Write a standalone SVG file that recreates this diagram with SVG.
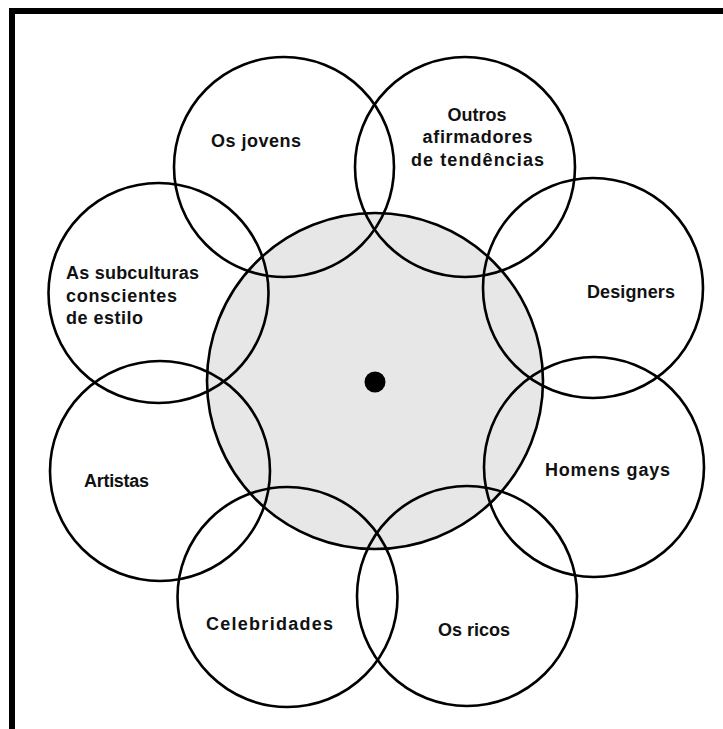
<svg xmlns="http://www.w3.org/2000/svg" width="723" height="729" viewBox="0 0 723 729">
  <style>
    .ring { fill: none; stroke: #000; stroke-width: 2.6; }
    .core { fill: #e7e7e7; stroke: #000; stroke-width: 2.6; }
    .lbl { font-family: "Liberation Sans", Arial, sans-serif; font-weight: bold; font-size: 18px; fill: #111; }
    .mid { text-anchor: middle; }
  </style>
  <rect width="723" height="729" fill="#fff"/>
  <path d="M12,729 V11 H723" fill="none" stroke="#000" stroke-width="6"/>

  <g id="centro">
    <circle class="core" cx="375" cy="381" r="168"/>
  </g>

  <g id="connectors"></g>

  <g id="os-jovens">
    <circle class="ring" cx="284" cy="167" r="110"/>
    <text class="lbl mid" x="256" y="147" textLength="90">Os jovens</text>
  </g>
  <g id="outros-afirmadores">
    <circle class="ring" cx="465" cy="167" r="110"/>
    <text class="lbl mid" x="477" y="121" textLength="59">Outros</text>
    <text class="lbl mid" x="477.5" y="143" textLength="110">afirmadores</text>
    <text class="lbl mid" x="477.5" y="166" textLength="133">de tendências</text>
  </g>
  <g id="designers">
    <circle class="ring" cx="593" cy="288" r="110"/>
    <text class="lbl mid" x="631" y="298" textLength="88">Designers</text>
  </g>
  <g id="homens-gays">
    <circle class="ring" cx="594" cy="467" r="110"/>
    <text class="lbl mid" x="607.5" y="476" textLength="125">Homens gays</text>
  </g>
  <g id="os-ricos">
    <circle class="ring" cx="467" cy="596" r="110"/>
    <text class="lbl mid" x="474" y="635.5" textLength="72">Os ricos</text>
  </g>
  <g id="celebridades">
    <circle class="ring" cx="287.5" cy="597" r="110"/>
    <text class="lbl mid" x="269.5" y="630" textLength="127">Celebridades</text>
  </g>
  <g id="artistas">
    <circle class="ring" cx="160" cy="471" r="110"/>
    <text class="lbl mid" x="116.5" y="487" textLength="65">Artistas</text>
  </g>
  <g id="subculturas">
    <circle class="ring" cx="158.5" cy="293" r="110"/>
    <text class="lbl" x="66" y="279" textLength="133">As subculturas</text>
    <text class="lbl" x="66" y="302" textLength="111">conscientes</text>
    <text class="lbl" x="66" y="324" textLength="77">de estilo</text>
  </g>

  <g id="ponto-central">
    <circle cx="375" cy="382" r="10.5" fill="#000"/>
  </g>
</svg>
